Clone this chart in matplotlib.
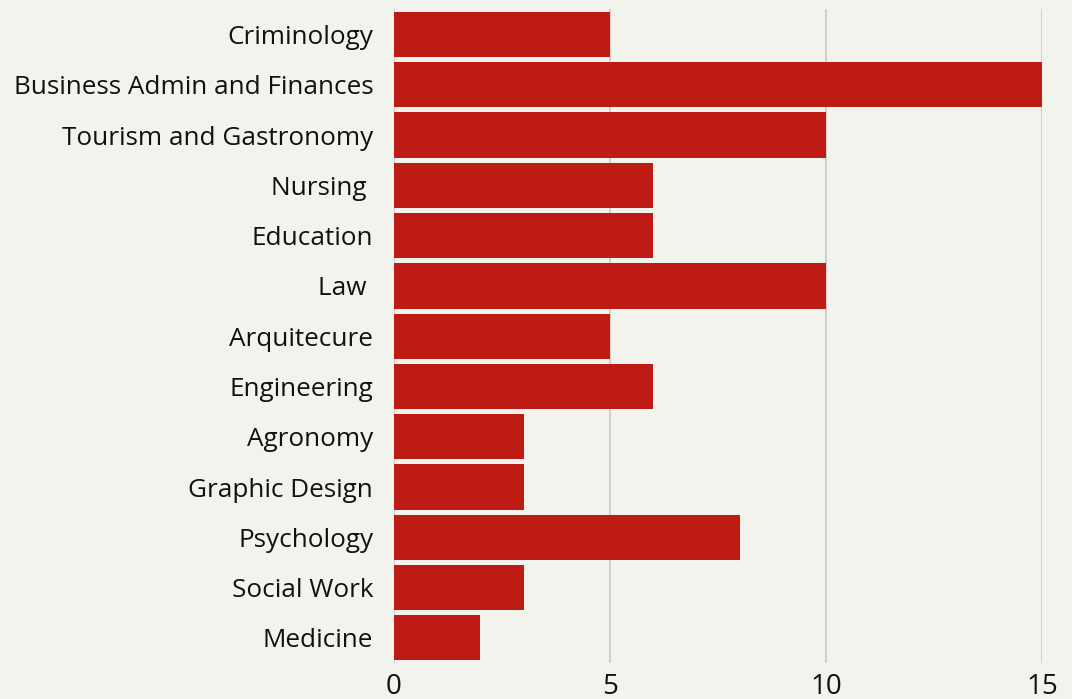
import matplotlib.pyplot as plt

# Data (top to bottom)
categories = ["Criminology", "Business Admin and Finances", "Tourism and Gastronomy",
              "Nursing ", "Education", "Law ", "Arquitecure", "Engineering",
              "Agronomy", "Graphic Design", "Psychology", "Social Work", "Medicine"]
values = [5, 15, 10, 6, 6, 10, 5, 6, 3, 3, 8, 3, 2]
xticks = [0, 5, 10, 15]

bg = "#F3F3EE"
bar_color = "#BE1B15"

plt.rcParams['font.family'] = ['Open Sans', 'DejaVu Sans']

fig = plt.figure(figsize=(10.72, 6.99), dpi=100, facecolor=bg)
ax = fig.add_axes([0.3675, 0.0515, 0.6045, 0.935])
ax.set_facecolor(bg)

pos = list(range(len(categories)))
ax.barh(pos, values, height=0.9, color=bar_color, zorder=3)

ax.set_ylim(len(categories) - 0.5, -0.5)
ax.set_xlim(0, 15)
ax.set_yticks(pos)
ax.set_yticklabels(categories, fontsize=18.8, color="#111111")
ax.set_xticks(xticks)
ax.set_xticklabels([str(t) for t in xticks], fontsize=20, color="#111111")
ax.tick_params(axis='y', length=0, pad=15)
ax.tick_params(axis='x', length=0, pad=7)
ax.grid(axis='x', color="#C8C8C4", linewidth=1.2, zorder=0)
for s in ax.spines.values():
    s.set_visible(False)

fig.savefig("out.png", dpi=100, facecolor=bg)
